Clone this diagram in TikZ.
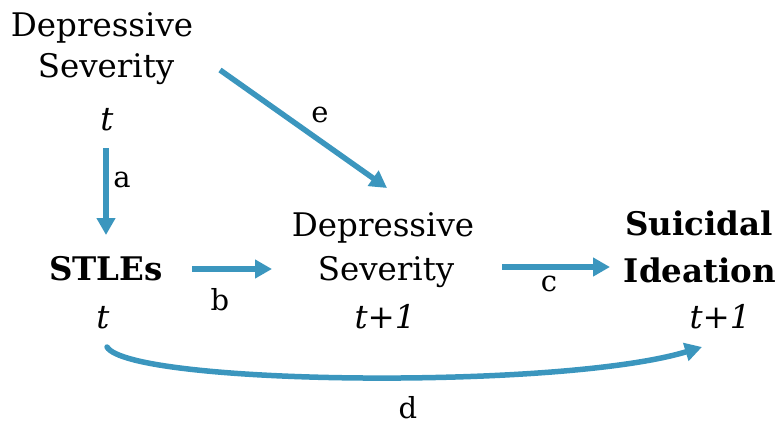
\documentclass[tikz,border=0pt]{standalone}
\usepackage{fontspec}
\setmainfont{DejaVu Serif}
\usetikzlibrary{arrows.meta,calc}
\definecolor{arrblue}{RGB}{59,150,190}
\begin{document}
\begin{tikzpicture}[x=1pt,y=-1pt,
  txt/.style={inner sep=0pt,anchor=base,font=\fontsize{32.5}{38}\selectfont},
  bld/.style={txt,font=\fontsize{32.5}{38}\selectfont\bfseries},
  itl/.style={txt,font=\fontsize{32.5}{38}\selectfont\itshape},
  lbl/.style={inner sep=0pt,font=\fontsize{29}{34}\selectfont},
  arr/.style={draw=arrblue,line width=5.5pt,-{Triangle[length=17pt,width=18pt]}}]
\useasboundingbox (0,0) rectangle (783,428);
% nodes
\node[txt] (ds0a) at (102,37) {Depressive};
\node[txt] (ds0b) at (106,77) {Severity};
\node[itl] (ds0t) at (107,130) {t};
\node[bld] (st) at (106,280) {STLEs};
\node[itl] (stt) at (103,328) {t};
\node[txt] (ds1a) at (383,236) {Depressive};
\node[txt] (ds1b) at (386,280) {Severity};
\node[itl] (ds1t) at (385,328) {t+1};
\node[bld] (sia) at (699,235) {Suicidal};
\node[bld] (sib) at (700,282) {Ideation};
\node[itl] (sit) at (720,328) {t+1};
% labels
\node[lbl] (la) at (122,180) {a};
\node[lbl] (lb) at (220,300) {b};
\node[lbl] (lc) at (549,284) {c};
\node[lbl] (ld) at (408,408) {d};
\node[lbl] (le) at (320,115) {e};
% arrows
\draw[arr] ($(ds0t.base)+(-1,18)$) -- ($(st.base)+(0,-45)$);
\draw[arr] ($(st.base)+(86,-11)$) -- ($(ds1b.base)+(-114,-11)$);
\draw[arr] ($(ds1b.base)+(116,-13)$) -- ($(sib.base)+(-90,-15)$);
\draw[arr] ($(ds0b.base)+(114,-7)$) -- ($(ds1a.base)+(4,-48)$);
\draw[arr,line cap=round] ($(stt.base)+(4,19)$) .. controls ($(stt.base)+(27,57)$) and ($(sit.base)+(-160,62)$) .. ($(sit.base)+(-18,19)$);
\end{tikzpicture}
\end{document}
